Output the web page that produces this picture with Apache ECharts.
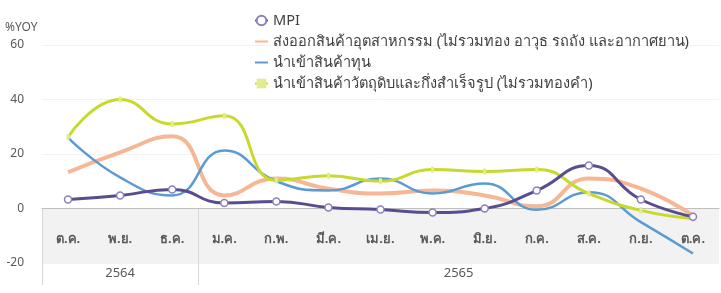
<!DOCTYPE html>
<html>
<head>
    <meta charset="utf-8">
    <title>MPI</title>
    <script src="https://cdn.jsdelivr.net/npm/echarts@6/dist/echarts.min.js"></script>
</head>
<body style="margin:0;background:#fff;">
    <div id="main" style="width:721px;height:293px;"></div>
    <script type="text/javascript">
        // ข้อมูลรายเดือน (%YOY)
        var months = ['ต.ค.', 'พ.ย.', 'ธ.ค.', 'ม.ค.', 'ก.พ.', 'มี.ค.', 'เม.ย.', 'พ.ค.', 'มิ.ย.', 'ก.ค.', 'ส.ค.', 'ก.ย.', 'ต.ค.'];
        var years = ['2564', '2565'];
        var yearSpans = [3, 10];
        var seriesNames = ['MPI', 'ส่งออกสินค้าอุตสาหกรรม (ไม่รวมทอง อาวุธ รถถัง และอากาศยาน)', 'นำเข้าสินค้าทุน', 'นำเข้าสินค้าวัตถุดิบและกึ่งสำเร็จรูป (ไม่รวมทองคำ)'];
        var mpi = [3.3, 4.8, 7.0, 2.0, 2.6, 0.4, -0.4, -1.5, 0.0, 6.6, 15.8, 3.3, -3.0];
        var exportInd = [13.3, 20.6, 26.5, 4.8, 11.0, 7.3, 5.5, 6.6, 4.8, 0.8, 11.0, 7.3, -2.6];
        var capital = [26.0, 11.4, 4.8, 21.3, 10.0, 6.6, 11.0, 5.5, 9.2, -0.5, 6.0, -5.0, -16.5];
        var rawMat = [26.2, 40.0, 31.0, 34.0, 10.3, 12.0, 10.0, 14.3, 13.6, 14.3, 5.5, -0.7, -3.7];
        var yTicks = [-20, 0, 20, 40, 60];

        // ตำแหน่งกลุ่มปีบนแกนค่า (-0.5 .. 12.5)
        var yearCenters = [], yearEdges = [-0.5], start = -0.5;
        yearSpans.forEach(function (n) {
            yearCenters.push(start + n / 2);
            start += n;
            yearEdges.push(start);
        });
        yearEdges.pop();

        var font = 'Noto Sans, DejaVu Sans, sans-serif';
        var yMin = yTicks[0], yMax = yTicks[yTicks.length - 1];
        var gridBox = { left: 42, right: 2, top: 45, bottom: 30, outerBoundsMode: 'none' };
        // grid ส่วนบนเส้น 0 (ใช้วางป้ายเดือนที่ระดับ 0)
        var zeroBottom = 30 + 218 * (0 - yMin) / (yMax - yMin);
        var chart = echarts.init(document.getElementById('main'));
        chart.setOption({
            animation: false,
            textStyle: { fontFamily: font },
            title: {
                text: '%YOY', left: 0, top: 17,
                textStyle: { fontSize: 12, fontWeight: 'normal', color: '#595959' }
            },
            legend: {
                orient: 'vertical', left: 249, top: 8,
                itemWidth: 13, itemHeight: 12, itemGap: 6,
                textStyle: { fontSize: 14.6, lineHeight: 15, color: '#404040' },
                data: [
                    { name: seriesNames[0] },
                    { name: seriesNames[1], itemStyle: { opacity: 0 } },
                    { name: seriesNames[2], itemStyle: { opacity: 0 } },
                    { name: seriesNames[3] }
                ]
            },
            grid: [gridBox, gridBox,
                { left: 42, right: 2, top: 45, bottom: zeroBottom, outerBoundsMode: 'none' }],
            xAxis: [{
                type: 'category', data: months, gridIndex: 0,
                axisLine: { show: false },
                axisTick: { show: false },
                axisLabel: { show: false }
            }, {
                type: 'value', min: -0.5, max: 12.5, gridIndex: 1, position: 'bottom',
                axisLine: { show: false, onZero: false },
                splitLine: { show: false },
                axisTick: { show: true, customValues: yearEdges, length: 22, lineStyle: { color: '#d9d9d9' } },
                axisLabel: {
                    customValues: yearCenters, margin: 4, fontSize: 13, color: '#595959',
                    formatter: function (v) { return years[yearCenters.indexOf(v)]; }
                }
            }, {
                // แกนเดือนต้องอยู่เหนือแถบสีเทา
                type: 'category', data: months, gridIndex: 2, position: 'bottom', z: 10,
                axisLine: { show: true, onZero: false, lineStyle: { color: '#bfbfbf' } },
                axisTick: { show: false },
                axisLabel: { margin: 24, fontSize: 13, color: '#595959', fontWeight: 'bold' }
            }],
            yAxis: [{
                type: 'value', gridIndex: 0, min: yMin, max: yMax, interval: 20,
                axisLine: { show: false, onZero: false },
                axisTick: { show: false },
                axisLabel: { fontSize: 12, color: '#595959', margin: 18 },
                splitLine: { lineStyle: { color: '#f2f2f2' } }
            }, {
                type: 'value', gridIndex: 1, min: yMin, max: yMax, show: false,
                axisLine: { onZero: false }
            }, {
                type: 'value', gridIndex: 2, min: 0, max: yMax, show: false,
                axisLine: { onZero: false }
            }],
            series: [{
                name: seriesNames[0], type: 'line', data: mpi, smooth: true, z: 15,
                symbol: 'circle', symbolSize: 7, showAllSymbol: true,
                lineStyle: { color: '#574d8f', width: 3 },
                itemStyle: { color: '#ffffff', borderColor: '#8a82b8', borderWidth: 1.5 }
            }, {
                name: seriesNames[1], type: 'line', data: exportInd, smooth: true, z: 12,
                symbol: 'none',
                lineStyle: { color: '#f6b794', width: 4 },
                itemStyle: { color: '#f6b794' }
            }, {
                name: seriesNames[2], type: 'line', data: capital, smooth: true, z: 13,
                symbol: 'none',
                lineStyle: { color: '#5b9bd5', width: 2.5 },
                itemStyle: { color: '#5b9bd5' }
            }, {
                name: seriesNames[3], type: 'line', data: rawMat, smooth: true, z: 14,
                symbol: 'rect', symbolSize: [3, 6],
                lineStyle: { color: '#c8d92e', width: 3 },
                itemStyle: { color: '#e3ec8c' }
            }, {
                type: 'line', xAxisIndex: 1, yAxisIndex: 1, data: [], silent: true, z: 1,
                markArea: {
                    silent: true,
                    itemStyle: { color: '#f2f2f2' },
                    data: [[{ yAxis: 0 }, { yAxis: yMin }]]
                },
                markLine: {
                    silent: true, symbol: 'none', label: { show: false },
                    lineStyle: { color: '#d9d9d9', type: 'solid', width: 1 },
                    data: yearEdges.map(function (e) {
                        return [{ coord: [e, 0] }, { coord: [e, yMin] }];
                    })
                }
            }]
        });
    </script>
</body>
</html>
